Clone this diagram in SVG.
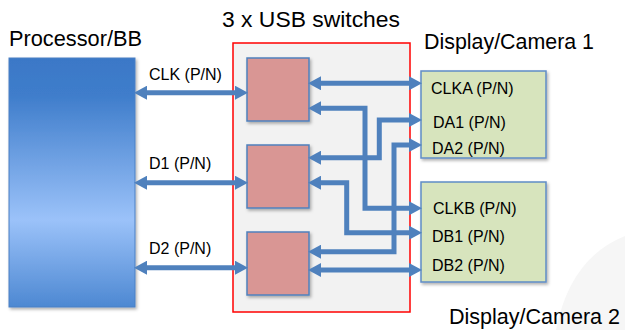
<svg xmlns="http://www.w3.org/2000/svg" width="625" height="330" viewBox="0 0 625 330">
<style>
text{font-family:"Liberation Sans",Arial,sans-serif;fill:#000}
.title{font-size:21.5px}
.lbl{font-size:16px}
.sw{fill:#d99694;stroke:#4f81bd;stroke-width:1.5}
.disp{fill:#d7e4bd;stroke:#5f8cc6;stroke-width:1.5}
.conn{fill:none;stroke:#4f81bd;stroke-width:5;stroke-linejoin:miter;marker-start:url(#ah);marker-end:url(#ah)}
</style>
<defs>
<linearGradient id="pg" x1="0" y1="0" x2="0" y2="1">
<stop offset="0" stop-color="#3b78c7"/>
<stop offset="0.15" stop-color="#3f7dcb"/>
<stop offset="0.65" stop-color="#9bc2f9"/>
<stop offset="1" stop-color="#4d88d2"/>
</linearGradient>
<filter id="sh" x="-10%" y="-10%" width="130%" height="130%">
<feDropShadow dx="1.5" dy="2" stdDeviation="1.5" flood-color="#000" flood-opacity="0.3"/>
</filter>
<marker id="ah" viewBox="0 0 13 14" refX="1" refY="7" markerWidth="13" markerHeight="14" markerUnits="userSpaceOnUse" orient="auto-start-reverse">
<path d="M0,0 L13,7 L0,14 z" fill="#4f81bd"/>
</marker>
</defs>
<rect width="625" height="330" fill="#fff"/>
<path d="M556,330 Q570,258 625,236 L625,330 Z" fill="#f6f6f6"/>
<g id="processor">
<rect x="9" y="58" width="126" height="249" fill="url(#pg)" stroke="#4a80c4" stroke-width="1" filter="url(#sh)"/>
<text class="title" x="9" y="46" textLength="133" lengthAdjust="spacingAndGlyphs">Processor/BB</text>
</g>
<g id="usb-switches">
<rect x="233" y="43" width="177" height="269" fill="#f2f2f2" stroke="#ff0000" stroke-width="1.5"/>
<text class="title" x="222" y="27" textLength="178" lengthAdjust="spacingAndGlyphs">3 x USB switches</text>
</g>
<g id="switch1"><rect class="sw" x="247" y="58" width="62" height="63" filter="url(#sh)"/></g>
<g id="switch2"><rect class="sw" x="247" y="145" width="62" height="63" filter="url(#sh)"/></g>
<g id="switch3"><rect class="sw" x="247" y="232" width="62" height="63" filter="url(#sh)"/></g>
<g id="display1">
<rect class="disp" x="421" y="71" width="125" height="87" filter="url(#sh)"/>
<text class="title" x="424" y="49" textLength="170" lengthAdjust="spacingAndGlyphs">Display/Camera  1</text>
<text class="lbl" x="431" y="94">CLKA (P/N)</text>
<text class="lbl" x="433" y="128">DA1 (P/N)</text>
<text class="lbl" x="432" y="154">DA2 (P/N)</text>
</g>
<g id="display2">
<rect class="disp" x="421" y="182" width="125" height="100" filter="url(#sh)"/>
<text class="title" x="449" y="324" textLength="171" lengthAdjust="spacingAndGlyphs">Display/Camera  2</text>
<text class="lbl" x="433" y="214">CLKB (P/N)</text>
<text class="lbl" x="432" y="242">DB1 (P/N)</text>
<text class="lbl" x="432" y="271">DB2 (P/N)</text>
</g>
<g id="connectors">
<path class="conn" d="M146,92.7 H236"/>
<path class="conn" d="M146,182.7 H236"/>
<path class="conn" d="M146,267.7 H236"/>
<path class="conn" d="M320,83.3 H410"/>
<path class="conn" d="M320,108.3 H365 V208.3 H410"/>
<path class="conn" d="M320,157.7 H379.3 V120 H410"/>
<path class="conn" d="M320,251.7 H394 V145 H410"/>
<path class="conn" d="M320,182.7 H346.7 V232.7 H410"/>
<path class="conn" d="M320,270 H410"/>
<text class="lbl" x="149" y="80">CLK (P/N)</text>
<text class="lbl" x="149" y="169">D1 (P/N)</text>
<text class="lbl" x="149" y="254">D2 (P/N)</text>
</g>
</svg>
